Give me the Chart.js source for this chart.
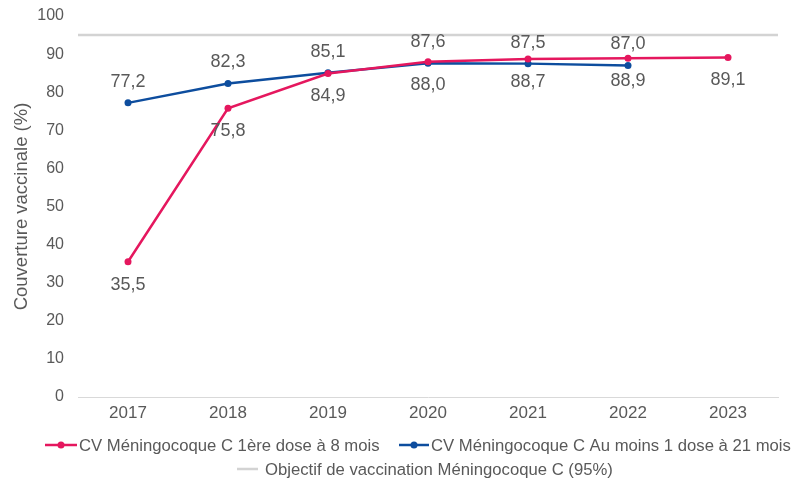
<!DOCTYPE html>
<html><head><meta charset="utf-8">
<script src="https://cdn.jsdelivr.net/npm/chart.js@4.4.1/dist/chart.umd.min.js"></script>
<style>html,body{margin:0;padding:0;background:#fff}#w{width:798px;height:481px}</style>
</head><body><div id="w"><canvas id="c"></canvas></div>
<script>
const years = ['2017','2018','2019','2020','2021','2022','2023'];
const dose8mois = [35.5, 75.8, 84.9, 88.0, 88.7, 88.9, 89.1];
const dose21mois = [77.2, 82.3, 85.1, 87.6, 87.5, 87.0, null];
const objectif = 95;
const seriesNames = ['CV Méningocoque C 1ère dose à 8 mois','CV Méningocoque C Au moins 1 dose à 21 mois','Objectif de vaccination Méningocoque C (95%)'];

const PINK = '#E5175E', BLUE = '#0D4D9E', GRAY = '#D3D3D3', TXT = '#595959';
const FONT = "'Liberation Sans', Arial, sans-serif";

// legend layout: [markerStart, markerEnd, textStart, y, hasDot]
const legendLayout = [[45, 77, 79, 445, true], [399, 429, 431, 445, true], [237, 258, 265, 469, false]];

const labelsPlugin = {
  id: 'lbls',
  beforeDatasetsDraw(chart) {
    const {ctx, chartArea, scales} = chart;
    const y = scales.y.getPixelForValue(objectif);
    ctx.save();
    ctx.strokeStyle = GRAY; ctx.lineWidth = 2.5;
    ctx.beginPath(); ctx.moveTo(chartArea.left, y); ctx.lineTo(chartArea.right, y); ctx.stroke();
    ctx.restore();
  },
  afterDatasetsDraw(chart) {
    const {ctx} = chart;
    ctx.save();
    ctx.font = '18px ' + FONT; ctx.fillStyle = TXT;
    ctx.textAlign = 'center'; ctx.textBaseline = 'middle';
    [[0, 23], [1, -21]].forEach(([di, off]) => {
      const meta = chart.getDatasetMeta(di);
      const data = chart.data.datasets[di].data;
      meta.data.forEach((pt, i) => {
        if (data[i] == null) return;
        ctx.fillText(data[i].toFixed(1).replace('.', ','), pt.x, pt.y + off);
      });
    });
    ctx.restore();
  },
  afterDraw(chart) {
    const {ctx} = chart;
    ctx.save();
    ctx.font = '16.7px ' + FONT; ctx.textBaseline = 'middle'; ctx.textAlign = 'left';
    chart.data.datasets.forEach((d, i) => {
      const [m0, m1, tx, y, dot] = legendLayout[i];
      const col = d.legendColor;
      ctx.strokeStyle = col; ctx.lineWidth = 2.5;
      ctx.beginPath(); ctx.moveTo(m0, y); ctx.lineTo(m1, y); ctx.stroke();
      if (dot) { ctx.fillStyle = col; ctx.beginPath(); ctx.arc((m0 + m1) / 2, y, 3.5, 0, Math.PI * 2); ctx.fill(); }
      ctx.fillStyle = TXT;
      ctx.fillText(d.label, tx, y + 1);
    });
    ctx.restore();
  }
};

new Chart(document.getElementById('c'), {
  type: 'line',
  data: {
    labels: years,
    datasets: [
      {label: seriesNames[0], legendColor: PINK, data: dose8mois, borderColor: PINK, backgroundColor: PINK, borderWidth: 2.5, pointRadius: 3.5, pointBackgroundColor: PINK, pointBorderWidth: 0},
      {label: seriesNames[1], legendColor: BLUE, data: dose21mois, borderColor: BLUE, backgroundColor: BLUE, borderWidth: 2.5, pointRadius: 3.5, pointBackgroundColor: BLUE, pointBorderWidth: 0},
      {label: seriesNames[2], legendColor: GRAY, data: years.map(() => objectif), borderColor: 'rgba(0,0,0,0)', showLine: false, pointRadius: 0}
    ]
  },
  options: {
    responsive: true, maintainAspectRatio: false, animation: false,
    layout: {padding: {left: 0, right: 20, top: 16, bottom: 48}},
    plugins: {
      tooltip: {enabled: false},
      legend: {display: false}
    },
    scales: {
      x: {
        offset: true,
        grid: {display: false, drawTicks: false},
        border: {display: true, color: '#D9D9D9', width: 1},
        ticks: {color: TXT, font: {family: FONT, size: 17}, padding: 6},
        afterFit: (s) => { s.height = 36; s.paddingLeft = 0; s.paddingRight = 0; }
      },
      y: {
        min: 0, max: 100,
        grid: {display: false, drawTicks: false},
        border: {display: false},
        ticks: {stepSize: 10, color: TXT, font: {family: FONT, size: 16}, padding: 14},
        title: {display: true, text: 'Couverture vaccinale (%)', color: TXT, font: {family: FONT, size: 18.5}, padding: {top: 11, bottom: 0}},
        afterFit: (s) => { s.width = 78; s.paddingTop = 0; s.paddingBottom = 0; }
      }
    }
  },
  plugins: [labelsPlugin]
});
</script>
</body></html>
